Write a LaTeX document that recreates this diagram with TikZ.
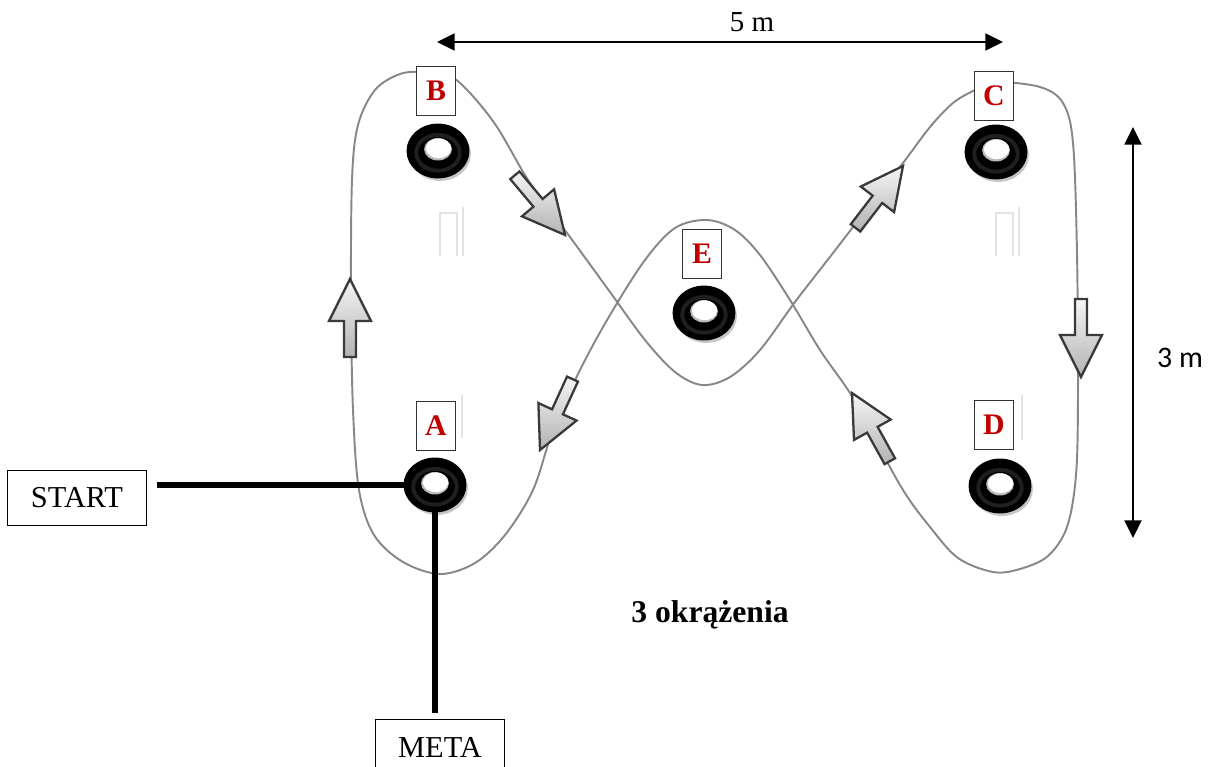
\documentclass[tikz,border=0pt]{standalone}
\usepackage{fontspec}
\setmainfont{Liberation Serif}
\newfontfamily\calib{Carlito}
\usetikzlibrary{arrows.meta,shapes.geometric}
\definecolor{lblred}{RGB}{192,0,0}
\definecolor{trackgray}{RGB}{135,135,135}
\begin{document}
\begin{tikzpicture}[x=0.02cm,y=-0.02cm,
  lbl/.style={draw=black!80, line width=0.6pt, fill=white, minimum width=22.7pt, minimum height=27.8pt, inner sep=0pt,
    text=lblred, font=\fontsize{17}{19}\selectfont\bfseries},
  txtbox/.style={draw=black, line width=0.7pt, fill=white, minimum height=31.7pt, inner sep=0pt,
    font=\fontsize{17.3}{19}\selectfont},
  tire/.style={ellipse, minimum width=35.2pt, minimum height=30.6pt, inner sep=0pt, fill=black, draw=black,
    line width=0.6pt,
    path picture={
      \draw[gray!35!black, line width=2.2pt, opacity=.7] ([yshift=-1pt]path picture bounding box.center) ellipse [x radius=12.4pt, y radius=10.2pt];
      \fill[gray!55] ([yshift=1pt]path picture bounding box.center) ellipse [x radius=7.9pt, y radius=6.4pt];
      \fill[white] ([yshift=1.5pt,xshift=0.3pt]path picture bounding box.center) ellipse [x radius=7.2pt, y radius=5.6pt];
    }},
  tireshadow/.style={ellipse, minimum width=35.2pt, minimum height=30.6pt, inner sep=0pt, fill=gray!45},
  track/.style={draw=trackgray, line width=1.1pt},
  thickline/.style={draw=black, line width=3.4pt},
  dimarrow/.style={draw=black, line width=1.6pt, {Triangle[length=10pt,width=9.5pt]}-{Triangle[length=10pt,width=9.5pt]}},
  faint/.style={draw=gray!22, line width=0.7pt},
  blockarr/.pic={
    \draw[draw=gray!45!black, line width=1.3pt, line join=miter, top color=gray!8, bottom color=gray!60]
      (0,0) -- (-42,21) -- (-42,6) -- (-78,6) -- (-78,-6) -- (-42,-6) -- (-42,-21) -- cycle;
  }
]
\useasboundingbox (0,0) rectangle (1208,767);
\clip (0,0) rectangle (1208,767);

% faint artifacts
\draw[faint] (440,256) -- (440,213) -- (457,213) -- (457,256);
\draw[faint] (463,207) -- (463,256);
\draw[faint] (996,256) -- (996,213) -- (1013,213) -- (1013,256);
\draw[faint] (1019,207) -- (1019,256);
\draw[faint] (462,395) -- (462,438);
\draw[faint] (1022,395) -- (1022,440);

% track
\draw[track] plot[smooth cycle, tension=0.55] coordinates {
 (440,574) (403,562) (374,535) (359,490) (353,410) (351,300) (352,180) (358,125) (375,90) (400,74)
 (425,72) (450,76) (470,93) (497,127) (530,183) (570,237) (610,292) (645,340) (675,372) (702,385)
 (730,377) (760,350) (795,302) (833,253) (870,205) (903,163) (930,127) (953,103) (975,90) (995,82)
 (1040,87) (1063,103) (1073,143) (1077,253) (1078,393) (1076,475) (1067,527) (1048,556) (1020,569)
 (993,572) (958,558) (930,527) (903,490) (870,430) (850,393) (820,350) (790,300) (760,255) (735,230)
 (707,220) (675,228) (645,260) (610,315) (580,370) (553,430) (533,490) (505,535) (475,563)};

% direction arrows
\pic[rotate=90] at (350,279) {blockarr};
\pic[rotate=-50] at (565,235) {blockarr};
\pic[rotate=52.5] at (903,166) {blockarr};
\pic[rotate=-90] at (1081,377) {blockarr};
\pic[rotate=119] at (852,393) {blockarr};
\pic[rotate=245.4] at (540,450) {blockarr};

% tires
\foreach \px/\py in {438/151, 996/152, 704/313, 435/485, 1000/486}{
  \node[tireshadow] at (\px+2,\py+3) {};
}
\node[tire] (tB) at (438,151) {};
\node[tire] (tC) at (996,152) {};
\node[tire] (tE) at (704,313) {};
\node[tire] (tA) at (435,485) {};
\node[tire] (tD) at (1000,486) {};

% labels
\node[lbl] (lB) at (436,91) {B};
\node[lbl] (lC) at (994,96) {C};
\node[lbl] (lE) at (702,254) {E};
\node[lbl] (lA) at (436,426) {A};
\node[lbl] (lD) at (994,425) {D};

% start / meta
\node[txtbox, minimum width=79.4pt] (start) at (77,498) {START};
\node[txtbox, minimum width=73.1pt] (meta) at (440,747) {META};
\draw[thickline] ([xshift=5.7pt]start.east |- tA.west) -- (tA.west);
\draw[thickline, shorten >=3.4pt] (tA.south) -- (tA.south |- meta.north);

% dimensions
\coordinate (h1) at (437,42);
\coordinate (h2) at (1003,42);
\draw[dimarrow] (h1) -- (h2);
\node[font=\fontsize{16.5}{18}\selectfont] (w5) at (752,22) {5 m};
\coordinate (v1) at (1133,127);
\coordinate (v2) at (1133,538);
\draw[dimarrow] (v1) -- (v2);
\node[font=\calib\fontsize{17}{19}\selectfont] (h3) at (1180,358) {3 m};

\node[font=\fontsize{18}{20}\selectfont\bfseries] (laps) at (710,615) {3 okrążenia};
\end{tikzpicture}
\end{document}
